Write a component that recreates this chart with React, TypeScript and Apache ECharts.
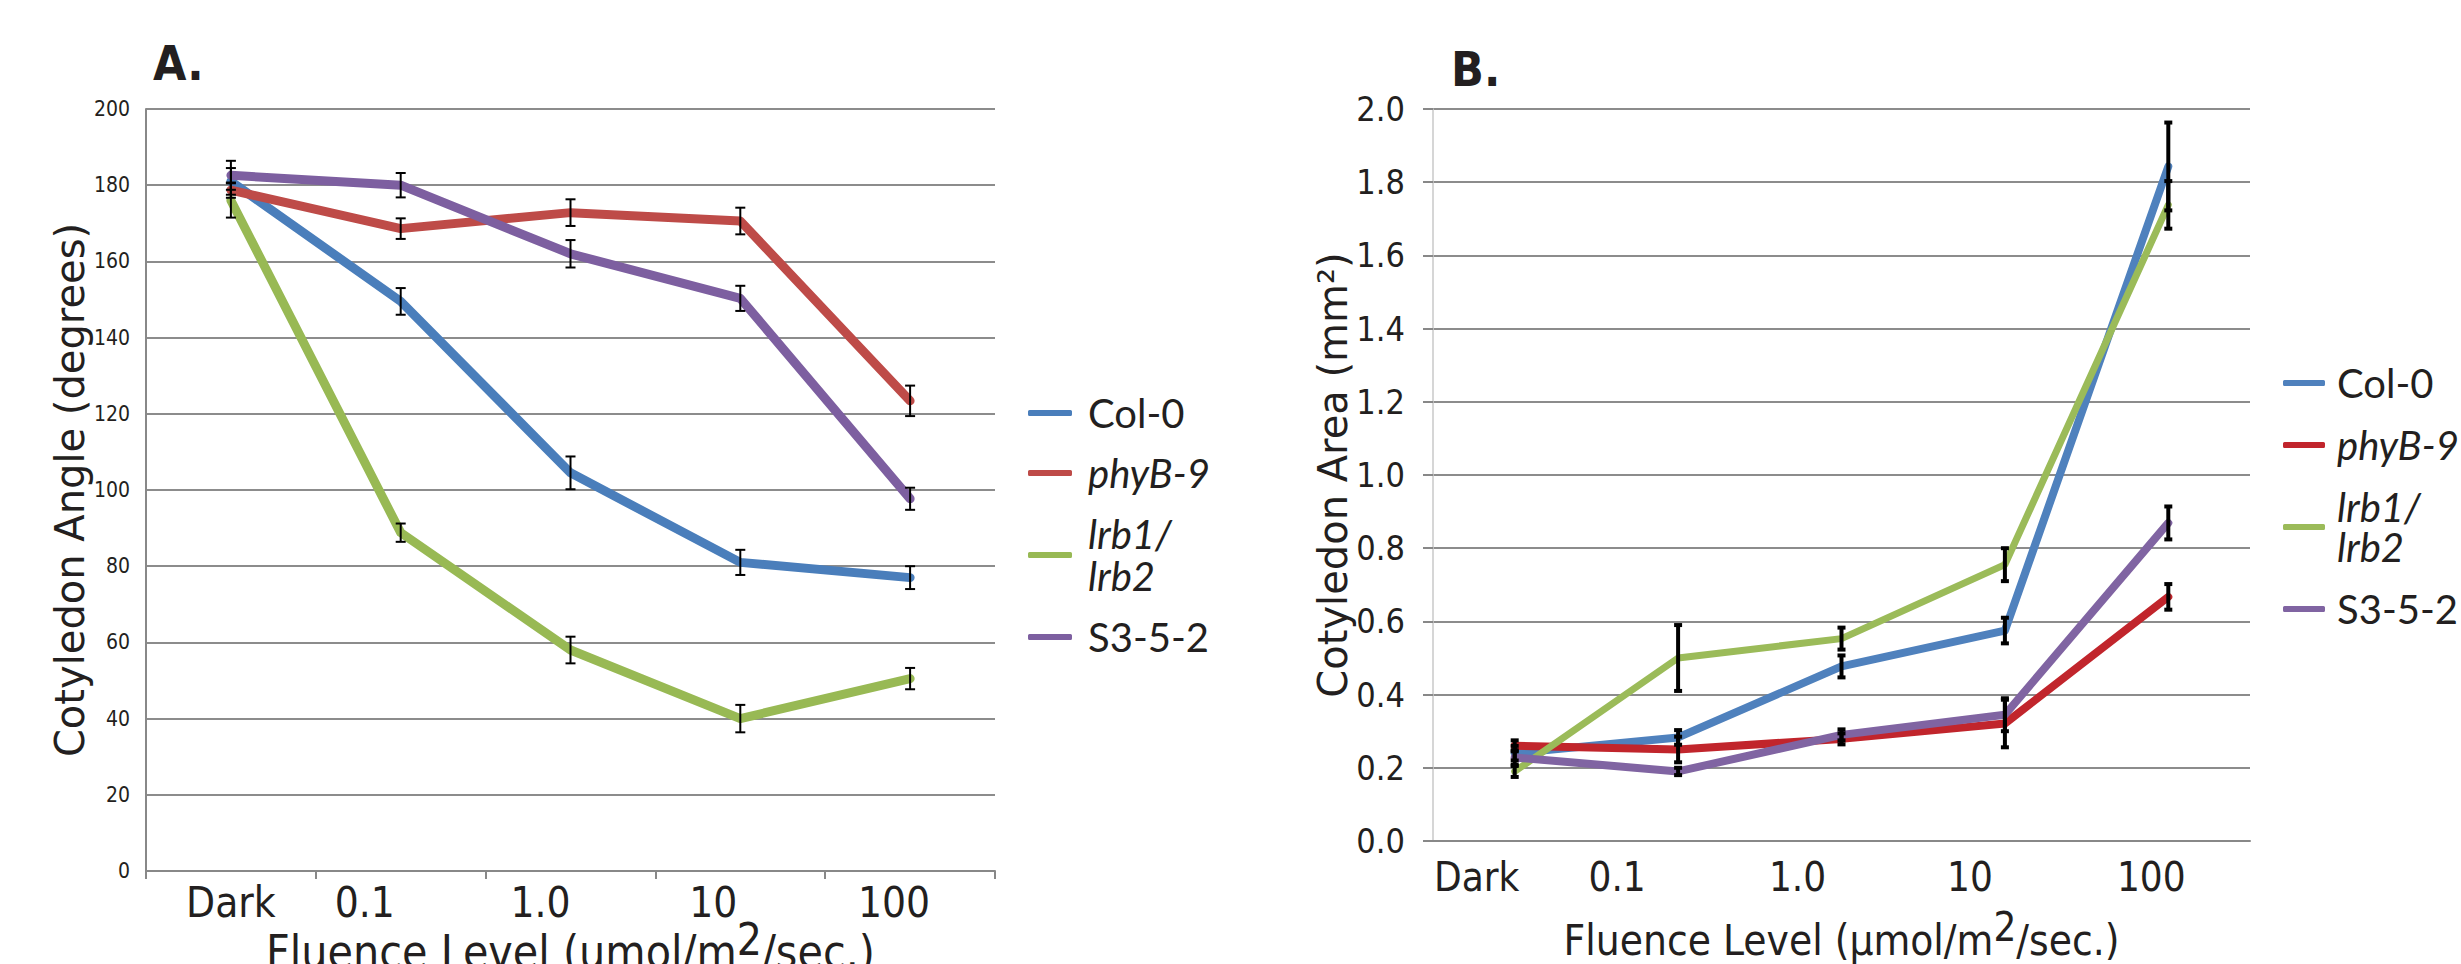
import React, { useEffect, useRef } from "react";
import * as echarts from "echarts";

const categories = ["Dark", "0.1", "1.0", "10", "100"];
const seriesNames = ["Col-0", "phyB-9", "lrb1/lrb2", "S3-5-2"];

// Panel A: cotyledon angle (degrees)
const angleCol0 = [181, 149.5, 104.5, 81, 77];
const angleCol0Err = [3.5, 3.5, 4.3, 3.3, 3];
const anglePhyB9 = [178.7, 168.6, 172.8, 170.6, 123.4];
const anglePhyB9Err = [2, 2.7, 3.5, 3.5, 4];
const angleLrb = [176, 88.8, 58, 40, 50.5];
const angleLrbErr = [4.5, 2.4, 3.5, 3.6, 2.8];
const angleS352 = [182.6, 180, 162, 150.3, 97.7];
const angleS352Err = [3.8, 3.2, 3.6, 3.3, 2.9];

// Panel B: cotyledon area (mm2)
const areaCol0 = [0.24, 0.283, 0.477, 0.575, 1.843];
const areaCol0Err = [0.02, 0.02, 0.03, 0.035, 0.12];
const areaPhyB9 = [0.26, 0.25, 0.279, 0.321, 0.667];
const areaPhyB9Err = [0.015, 0.035, 0.015, 0.065, 0.035];
const areaLrb = [0.19, 0.5, 0.553, 0.755, 1.738];
const areaLrbErr = [0.015, 0.09, 0.03, 0.045, 0.065];
const areaS352 = [0.228, 0.19, 0.29, 0.345, 0.869];
const areaS352Err = [0.02, 0.01, 0.015, 0.045, 0.045];

const colorsA = ["#4a7ebb", "#be4b48", "#98b954", "#7d5fa0"];
const colorsB = ["#4f81bd", "#c1252c", "#9bbb59", "#8064a2"];

const NARROW = '"Liberation Sans Narrow", "DejaVu Sans Condensed", "Liberation Sans", sans-serif';
const LEG = 'Lato, "Open Sans", sans-serif';
const TXT = "#231f20";

// label shift (right padding) per category, to mimic the off-centre labels
const padA = [0, 72, 60, 54, 32];
const padB = [76, 122, 88, 70, 34];

const legendFormatter = (name: string) => {
  if (name === "lrb1/lrb2") return "{j|lrb1/}\n{j|lrb2}";
  if (name === "phyB-9") return "{i|phyB-9}";
  return name;
};

function errData(vals: number[], errs: number[]) {
  return vals.map((v, i) => [i, v - errs[i], v + errs[i]]);
}

function makeErrRender(lineWidth: number, capHalf: number) {
  return (params: any, api: any) => {
    const x = api.value(0);
    const lo = api.coord([x, api.value(1)]);
    const hi = api.coord([x, api.value(2)]);
    const st = { stroke: "#000", lineWidth };
    return {
      type: "group",
      children: [
        { type: "line", shape: { x1: lo[0], y1: lo[1], x2: hi[0], y2: hi[1] }, style: st },
        { type: "line", shape: { x1: lo[0] - capHalf, y1: lo[1], x2: lo[0] + capHalf, y2: lo[1] }, style: st },
        { type: "line", shape: { x1: hi[0] - capHalf, y1: hi[1], x2: hi[0] + capHalf, y2: hi[1] }, style: st },
      ],
    };
  };
}

function labelRich(pads: number[], fontSize: number) {
  const rich: any = {};
  pads.forEach((p, i) => {
    rich["p" + i] = { fontSize, fontFamily: NARROW, color: TXT, padding: [0, p, 0, 0] };
  });
  return rich;
}

export default function App() {
  const ref = useRef<HTMLDivElement>(null);
  useEffect(() => {
    if (!ref.current) return;
    const chart = echarts.init(ref.current, undefined, { renderer: "svg" });
    const valsA = [angleCol0, anglePhyB9, angleLrb, angleS352];
    const errsA = [angleCol0Err, anglePhyB9Err, angleLrbErr, angleS352Err];
    const valsB = [areaCol0, areaPhyB9, areaLrb, areaS352];
    const errsB = [areaCol0Err, areaPhyB9Err, areaLrbErr, areaS352Err];

    const series: any[] = [];
    seriesNames.forEach((n, i) => {
      series.push({
        name: n, type: "line", xAxisIndex: 0, yAxisIndex: 0, data: valsA[i],
        symbol: "none", z: 2,
        lineStyle: { color: colorsA[i], width: 9, cap: "round", join: "round" },
        itemStyle: { color: colorsA[i] },
      });
    });
    seriesNames.forEach((n, i) => {
      series.push({
        name: "errA" + i, type: "custom", xAxisIndex: 0, yAxisIndex: 0, z: 3,
        renderItem: makeErrRender(2, 5), data: errData(valsA[i], errsA[i]),
        encode: { x: 0, y: [1, 2] },
      });
    });
    seriesNames.forEach((n, i) => {
      series.push({
        name: n, type: "line", xAxisIndex: 1, yAxisIndex: 1, data: valsB[i],
        symbol: "none", z: 2,
        lineStyle: { color: colorsB[i], width: i === 2 ? 7 : 8, cap: "round", join: "round" },
        itemStyle: { color: colorsB[i] },
      });
    });
    seriesNames.forEach((n, i) => {
      series.push({
        name: "errB" + i, type: "custom", xAxisIndex: 1, yAxisIndex: 1, z: 3,
        renderItem: makeErrRender(4, 4), data: errData(valsB[i], errsB[i]),
        encode: { x: 0, y: [1, 2] },
      });
    });

    const xName = (mu: string) => `Fluence Level (${mu}mol/m{sup|2}/sec.)`;
    const xNameStyle = (fs: number) => ({
      fontSize: fs, fontFamily: NARROW, color: TXT,
      rich: { sup: { fontSize: fs - 2, fontFamily: NARROW, color: TXT, padding: [0, 0, 26, 0] } },
    });

    const legendBase = (left: number, top: number, colors: string[], lh: number, lh2: number, gap: number, textPad: number, w: number) => ({
      orient: "vertical", left, top, itemWidth: w, itemHeight: 6, itemGap: gap,
      icon: "roundRect", selectedMode: false,
      data: seriesNames.map((n, i) => ({ name: n, itemStyle: { color: colors[i] } })),
      formatter: legendFormatter,
      textStyle: {
        fontSize: 40, fontFamily: LEG, color: TXT, lineHeight: lh, padding: [0, 0, 0, textPad],
        rich: {
          i: { fontSize: 40, fontFamily: LEG, fontStyle: "italic", color: TXT, lineHeight: lh },
          j: { fontSize: 40, fontFamily: LEG, fontStyle: "italic", color: TXT, lineHeight: lh2 },
        },
      },
    });

    chart.setOption({
      animation: false,
      backgroundColor: "#ffffff",
      title: [
        { text: "A.", left: 148, top: 34, textStyle: { fontSize: 48, fontWeight: "bold", fontFamily: NARROW, color: TXT } },
        { text: "B.", left: 1446, top: 40, textStyle: { fontSize: 48, fontWeight: "bold", fontFamily: NARROW, color: TXT } },
      ],
      legend: [
        legendBase(1023, 388, colorsA, 40, 42, 20, 11, 44),
        legendBase(2278, 358, colorsB, 38, 40, 22, 7, 42),
      ],
      grid: [
        { left: 146, top: 109, width: 849, height: 762, outerBoundsMode: "none", containLabel: false },
        { left: 1433, top: 109, width: 817, height: 732, outerBoundsMode: "none", containLabel: false },
      ],
      xAxis: [
        {
          gridIndex: 0, type: "category", data: categories, boundaryGap: true,
          axisLine: { lineStyle: { color: "#888", width: 2 } },
          axisTick: { show: true, interval: 0, length: 8, lineStyle: { color: "#888", width: 2 } },
          axisLabel: {
            interval: 0, hideOverlap: false,
            fontSize: 42, fontFamily: NARROW, color: TXT, margin: 10,
            formatter: (v: string, i: number) => `{p${i}|${v}}`, rich: labelRich(padA, 42),
          },
          name: xName("u"), nameLocation: "middle", nameGap: 46, nameMoveOverlap: false,
          nameTextStyle: xNameStyle(46),
        },
        {
          gridIndex: 1, type: "category", data: categories, boundaryGap: true,
          axisLine: { lineStyle: { color: "#888", width: 2 } },
          axisTick: { show: false, interval: 0 },
          axisLabel: {
            interval: 0, hideOverlap: false,
            fontSize: 40, fontFamily: NARROW, color: TXT, margin: 16,
            formatter: (v: string, i: number) => `{p${i}|${v}}`, rich: labelRich(padB, 40),
          },
          name: xName("µ"), nameLocation: "middle", nameGap: 66, nameMoveOverlap: false,
          nameTextStyle: xNameStyle(42),
        },
      ],
      yAxis: [
        {
          gridIndex: 0, type: "value", min: 0, max: 200, interval: 20,
          axisLine: { show: true, lineStyle: { color: "#888", width: 2 } },
          axisTick: { show: false },
          splitLine: { lineStyle: { color: "#8c8c8c", width: 2 } },
          axisLabel: { fontSize: 21, fontFamily: NARROW, color: TXT, margin: 16 },
          name: "Cotyledon Angle (degrees)", nameLocation: "middle", nameGap: 56, nameMoveOverlap: false,
          nameTextStyle: { fontSize: 40, fontFamily: '"DejaVu Sans", sans-serif', color: TXT },
        },
        {
          gridIndex: 1, type: "value", min: 0, max: 2, interval: 0.2,
          axisLine: { show: true, lineStyle: { color: "#c8c8c8", width: 1.5 } },
          axisTick: { show: true, length: 10, lineStyle: { color: "#888", width: 2 } },
          splitLine: { lineStyle: { color: "#8c8c8c", width: 2 } },
          axisLabel: { fontSize: 34, fontFamily: NARROW, color: TXT, margin: 28, formatter: (v: number) => v.toFixed(1) },
          name: "Cotyledon Area (mm²)", nameLocation: "middle", nameGap: 80, nameMoveOverlap: false,
          nameTextStyle: { fontSize: 40, fontFamily: '"DejaVu Sans", sans-serif', color: TXT },
        },
      ],
      series,
    });
    return () => chart.dispose();
  }, []);
  return (
    <div
      ref={ref}
      style={{ position: "absolute", left: 0, top: 0, width: 2461, height: 964, background: "#fff" }}
    />
  );
}
